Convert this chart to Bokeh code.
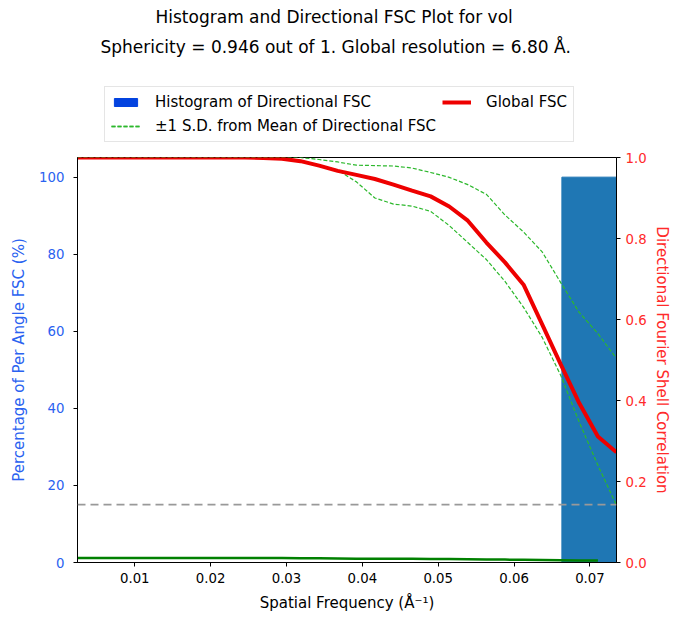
from bokeh.plotting import figure
from bokeh.layouts import column
from bokeh.models import (Range1d, LinearAxis, FixedTicker, PrintfTickFormatter,
                          Legend, LegendItem, Title, Span)
from bokeh.embed import file_html
from bokeh.resources import INLINE

# ---------------- data ----------------
title_line1 = "Histogram and Directional FSC Plot for vol"
title_line2 = "Sphericity = 0.946 out of 1. Global resolution = 6.80 Å."

freq = [0.00245, 0.0049, 0.00735, 0.0098, 0.01225, 0.0147, 0.01715, 0.0196, 0.02205, 0.0245,
        0.02695, 0.0294, 0.03185, 0.0343, 0.03675, 0.0392, 0.04165, 0.0441, 0.04655, 0.049,
        0.05145, 0.0539, 0.05635, 0.0588, 0.06125, 0.0637, 0.06615, 0.0686, 0.07105, 0.0735]
global_fsc = [1.0, 1.0, 1.0, 1.0, 1.0, 1.0, 1.0, 1.0, 1.0, 1.0,
              0.999, 0.997, 0.991, 0.980, 0.967, 0.957, 0.947, 0.933, 0.918, 0.904,
              0.879, 0.844, 0.790, 0.741, 0.686, 0.588, 0.489, 0.393, 0.311, 0.272]
sd_upper = [1.0, 1.0, 1.0, 1.0, 1.0, 1.0, 1.0, 1.0, 1.0, 1.0,
            1.0, 1.0, 1.0, 0.995, 0.989, 0.981, 0.980, 0.979, 0.974, 0.963,
            0.951, 0.933, 0.909, 0.858, 0.816, 0.767, 0.691, 0.617, 0.565, 0.504]
sd_lower = [1.0, 1.0, 1.0, 1.0, 1.0, 1.0, 1.0, 1.0, 1.0, 1.0,
            1.0, 0.999, 0.993, 0.981, 0.969, 0.940, 0.900, 0.885, 0.880, 0.867,
            0.832, 0.790, 0.748, 0.694, 0.630, 0.556, 0.462, 0.346, 0.240, 0.141]
per_angle_freq = freq[:29]
per_angle_pct = [1.2, 1.2, 1.2, 1.2, 1.2, 1.2, 1.2, 1.2, 1.2, 1.2,
                 1.2, 1.15, 1.1, 1.1, 1.05, 1.0, 1.0, 0.95, 0.95, 0.9,
                 0.9, 0.85, 0.8, 0.75, 0.7, 0.65, 0.6, 0.55, 0.5]
hist_left = [0.0663]
hist_right = [0.0741]
hist_pct = [100]
threshold = 0.143

x_ticks = [0.01, 0.02, 0.03, 0.04, 0.05, 0.06, 0.07]
left_ticks = [0, 20, 40, 60, 80, 100]
right_ticks = [0.0, 0.2, 0.4, 0.6, 0.8, 1.0]

# ---------------- styles ----------------
FONT = "DejaVu Sans"
BLUE_TXT = "#2a62f0"
RED_TXT = "#ff2a2a"
HIST_C = "#1f77b4"
PATCH_C = "#0343df"
SD_C = "#2cb82c"
GL_C = "#ee0000"
PA_C = "#008000"

X_RANGE = Range1d(0.00245, 0.0735)

# ================= header figure: titles + legend =================
head = figure(width=673, height=150, output_backend="svg", toolbar_location=None,
              x_range=X_RANGE, y_range=Range1d(0, 1.05),
              min_border_left=0, min_border_right=0, min_border_bottom=0, min_border_top=0)
head.axis.visible = False
head.grid.visible = False
head.outline_line_color = None

h_patch = head.quad(left=hist_left, right=hist_right, bottom=[0], top=hist_pct,
                    fill_color=PATCH_C, line_color=PATCH_C, visible=False)
h_up = head.line(freq, sd_upper, line_color=SD_C, line_width=1.5, line_dash="4 2", visible=False)
h_lo = head.line(freq, sd_lower, line_color=SD_C, line_width=1.5, line_dash="4 2", visible=False)
h_gl = head.line(freq, global_fsc, line_color=GL_C, line_width=4, visible=False)

legend = Legend(items=[
    LegendItem(label="Histogram of Directional FSC", renderers=[h_patch]),
    LegendItem(label="Global FSC", renderers=[h_gl]),
    LegendItem(label="±1 S.D. from Mean of Directional FSC", renderers=[h_up, h_lo]),
], ncols=2, orientation="horizontal", location=(27, 8))
legend.label_text_font = FONT
legend.label_text_font_size = "15px"
legend.label_text_color = "black"
legend.glyph_width = 29
legend.glyph_height = 10
legend.label_standoff = 15
legend.spacing = 6
legend.padding = 6
legend.margin = 0
legend.border_line_color = "#cccccc"
legend.background_fill_alpha = 0.8
head.add_layout(legend, "center")

t2 = Title(text=title_line2, align="left", text_font=FONT, text_font_size="17px",
           text_font_style="normal", text_color="black", offset=23, standoff=8)
head.add_layout(t2, "above")
head.title.text = title_line1
head.title.align = "left"
head.title.text_font = FONT
head.title.text_font_size = "17px"
head.title.text_font_style = "normal"
head.title.text_color = "black"
head.title.standoff = 8
head.title.offset = 78

# ================= main figure =================
p = figure(width=673, height=469, output_backend="svg", toolbar_location=None,
           x_range=X_RANGE, y_range=Range1d(0, 105.1),
           min_border_left=77, min_border_right=54, min_border_bottom=57, min_border_top=7)
p.extra_y_ranges = {"fsc": Range1d(0, 1)}
p.xgrid.visible = False
p.ygrid.visible = False
p.outline_line_color = "black"
p.outline_line_width = 1

# histogram bar
p.quad(left=hist_left, right=hist_right, bottom=[0], top=hist_pct,
       fill_color=HIST_C, line_color=HIST_C, line_width=1)

# per angle line (bottom)
p.line(per_angle_freq, per_angle_pct, line_color=PA_C, line_width=2.5)

# threshold
p.add_layout(Span(location=threshold, dimension="width", y_range_name="fsc",
                  line_color="#999999", line_width=1.6, line_dash="8 5"))

p.line(freq, sd_upper, y_range_name="fsc", line_color=SD_C, line_width=1.2, line_dash="4 2")
p.line(freq, sd_lower, y_range_name="fsc", line_color=SD_C, line_width=1.2, line_dash="4 2")
p.line(freq, global_fsc, y_range_name="fsc", line_color=GL_C, line_width=4)

# axes
xa = p.xaxis[0]
xa.ticker = FixedTicker(ticks=x_ticks)
xa.formatter = PrintfTickFormatter(format="%.2f")
xa.axis_label = "Spatial Frequency (Å⁻¹)"

ya = p.yaxis[0]
ya.ticker = FixedTicker(ticks=left_ticks)
ya.formatter = PrintfTickFormatter(format="%d")
ya.axis_label = "Percentage of Per Angle FSC (%)"
ya.major_label_text_color = BLUE_TXT
ya.axis_label_text_color = BLUE_TXT

ra = LinearAxis(y_range_name="fsc", ticker=FixedTicker(ticks=right_ticks),
                formatter=PrintfTickFormatter(format="%.1f"),
                axis_label="Directional Fourier Shell Correlation")
ra.major_label_text_color = RED_TXT
ra.axis_label_text_color = RED_TXT
p.add_layout(ra, "right")

for ax in [xa, ya, ra]:
    ax.major_tick_in = 0
    ax.major_tick_out = 4
    ax.minor_tick_in = 0
    ax.minor_tick_out = 0
    ax.axis_line_color = "black"
    ax.major_tick_line_color = "black"
    ax.major_label_text_font = FONT
    ax.major_label_text_font_size = "13.3px"
    ax.axis_label_text_font = FONT
    ax.axis_label_text_font_size = "15px"
    ax.axis_label_text_font_style = "normal"
xa.major_label_text_color = "black"
xa.axis_label_text_color = "black"
xa.major_label_standoff = 6
xa.axis_label_standoff = 8
ya.major_label_standoff = 9
ya.axis_label_standoff = 8
ra.major_label_standoff = 5
ra.axis_label_standoff = 3

layout = column(head, p, spacing=0)
open("out.html", "w").write(file_html(layout, INLINE))
